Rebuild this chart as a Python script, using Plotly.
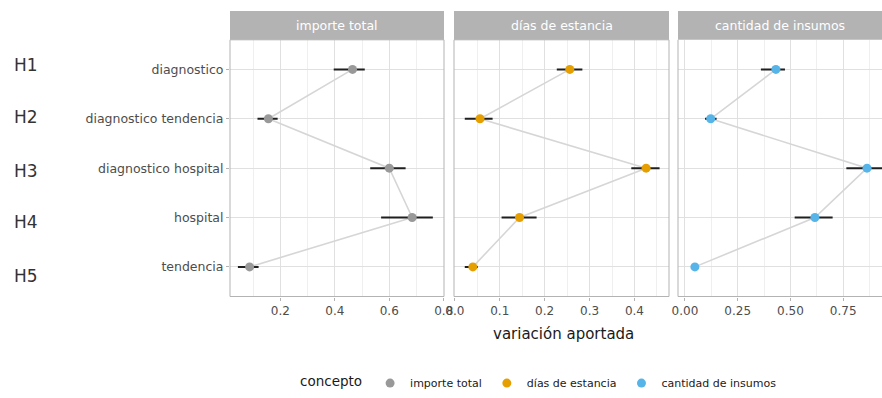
import plotly.graph_objects as go

# Model terms (top to bottom) and the three outcome measures
terms = ["diagnostico", "diagnostico tendencia", "diagnostico hospital", "hospital", "tendencia"]
concepts = ["importe total", "días de estancia", "cantidad de insumos"]
colors = ["#999999", "#E69F00", "#56B4E9"]
hyp_labels = ["H1", "H2", "H3", "H4", "H5"]

# Explained variation (point estimate and interval) per concept
importe_val = [0.465, 0.156, 0.600, 0.684, 0.087]
importe_lo = [0.396, 0.116, 0.530, 0.570, 0.044]
importe_hi = [0.510, 0.190, 0.660, 0.760, 0.120]

dias_val = [0.256, 0.056, 0.426, 0.144, 0.040]
dias_lo = [0.227, 0.022, 0.393, 0.104, 0.022]
dias_hi = [0.284, 0.084, 0.456, 0.182, 0.051]

insumos_val = [0.431, 0.122, 0.863, 0.616, 0.047]
insumos_lo = [0.360, 0.095, 0.765, 0.520, 0.030]
insumos_hi = [0.474, 0.150, 0.940, 0.700, 0.062]

series = [
    (importe_val, importe_lo, importe_hi),
    (dias_val, dias_lo, dias_hi),
    (insumos_val, insumos_lo, insumos_hi),
]

W, H = 882, 398
FONT = "DejaVu Sans, Verdana, sans-serif"

# Panel geometry in pixels
panel_x = [(230, 444), (454, 669), (678, 882)]
panel_top, panel_bot = 40, 298
strip_top = 11
x_ranges = [[0.015, 0.801], [-0.002, 0.477], [-0.033, 0.934]]
x_dticks = [0.2, 0.1, 0.25]
x_formats = [".1f", ".1f", ".2f"]


def px(x):
    return x / W


def py(y):
    return 1 - y / H


fig = go.Figure()

for i, (vals, lo, hi) in enumerate(series):
    xa = "x" if i == 0 else f"x{i + 1}"
    ya = "y" if i == 0 else f"y{i + 1}"
    # connecting line between terms
    fig.add_trace(go.Scatter(
        x=vals, y=terms, mode="lines",
        line=dict(color="#D6D6D6", width=1.6),
        xaxis=xa, yaxis=ya, showlegend=False, hoverinfo="skip",
    ))
    # interval + point estimate
    fig.add_trace(go.Scatter(
        x=vals, y=terms, mode="markers",
        marker=dict(color=colors[i], size=9, line=dict(width=0)),
        error_x=dict(
            type="data", symmetric=False,
            array=[h - v for h, v in zip(hi, vals)],
            arrayminus=[v - l for v, l in zip(vals, lo)],
            color="#1F1F1F", thickness=2, width=0,
        ),
        xaxis=xa, yaxis=ya, name=concepts[i], showlegend=True,
    ))

layout = dict(
    width=W, height=H,
    margin=dict(l=0, r=0, t=0, b=0),
    paper_bgcolor="white", plot_bgcolor="white",
    font=dict(family=FONT, color="#4D4D4D", size=11),
    legend=dict(
        orientation="h", x=px(298), xanchor="left", y=py(385), yanchor="middle",
        title=dict(text="concepto", font=dict(size=13.5, color="#1A1A1A"), side="left"),
        font=dict(size=11, color="#1A1A1A"),
        itemwidth=30, tracegroupgap=0, bgcolor="rgba(0,0,0,0)",
    ),
    showlegend=True,
)

for i in range(3):
    xk = "xaxis" if i == 0 else f"xaxis{i + 1}"
    yk = "yaxis" if i == 0 else f"yaxis{i + 1}"
    x0, x1 = panel_x[i]
    layout[xk] = dict(
        domain=[px(x0), px(x1)], range=x_ranges[i], anchor="y" if i == 0 else f"y{i + 1}",
        dtick=x_dticks[i], tick0=0, tickformat=x_formats[i],
        showgrid=True, gridcolor="#E0E0E0", gridwidth=0.8,
        minor=dict(dtick=x_dticks[i] / 2, tick0=0, showgrid=True, gridcolor="#EFEFEF", gridwidth=0.6),
        zeroline=False, showline=False,
        ticks="outside", ticklen=3, tickcolor="#B3B3B3", tickwidth=0.8,
        tickfont=dict(size=12, color="#4D4D4D"), automargin=False,
    )
    layout[yk] = dict(
        domain=[py(panel_bot), py(panel_top)],
        anchor="x" if i == 0 else f"x{i + 1}",
        type="category", categoryorder="array", categoryarray=terms[::-1],
        range=[-0.6, 4.6],
        showgrid=True, gridcolor="#E0E0E0", gridwidth=0.8,
        zeroline=False, showline=False,
        showticklabels=(i == 0),
        ticks="outside" if i == 0 else "", ticklen=3, tickcolor="#B3B3B3", tickwidth=0.8,
        tickfont=dict(size=12.5, color="#4D4D4D"), automargin=False,
    )
    if i > 0:
        layout[yk]["matches"] = "y"

fig.update_layout(**layout)

shapes = []
annotations = []
for i in range(3):
    x0, x1 = panel_x[i]
    # strip header
    shapes.append(dict(type="rect", xref="paper", yref="paper",
                       x0=px(x0), x1=px(x1), y0=py(panel_top), y1=py(strip_top),
                       fillcolor="#B3B3B3", line=dict(width=0), layer="above"))
    annotations.append(dict(text=concepts[i], xref="paper", yref="paper",
                            x=px((x0 + x1) / 2), y=py((strip_top + panel_top) / 2),
                            showarrow=False, font=dict(size=12.5, color="white"),
                            xanchor="center", yanchor="middle"))
    # panel border (the last panel runs off the right edge)
    bc = dict(color="#B3B3B3", width=1)
    if i < 2:
        shapes.append(dict(type="rect", xref="paper", yref="paper",
                           x0=px(x0), x1=px(x1), y0=py(panel_bot), y1=py(panel_top),
                           line=bc, layer="above"))
    else:
        shapes.append(dict(type="line", xref="paper", yref="paper",
                           x0=px(x0), x1=px(x0), y0=py(panel_bot), y1=py(panel_top), line=bc))
        shapes.append(dict(type="line", xref="paper", yref="paper",
                           x0=px(x0), x1=1, y0=py(panel_bot), y1=py(panel_bot), line=bc))

# Hypothesis labels on the far left
hyp_y = [65, 118, 172, 223, 277]
for lab, yy in zip(hyp_labels, hyp_y):
    annotations.append(dict(text=lab, xref="paper", yref="paper", x=px(12), y=py(yy),
                            xanchor="left", yanchor="middle", showarrow=False,
                            font=dict(size=17, color="#333333")))

# Shared x-axis title
annotations.append(dict(text="variación aportada", xref="paper", yref="paper",
                        x=px(563), y=py(336), xanchor="center", yanchor="middle",
                        showarrow=False, font=dict(size=15, color="#1A1A1A")))

fig.update_layout(shapes=shapes, annotations=annotations)

fig.write_html("out.html")
